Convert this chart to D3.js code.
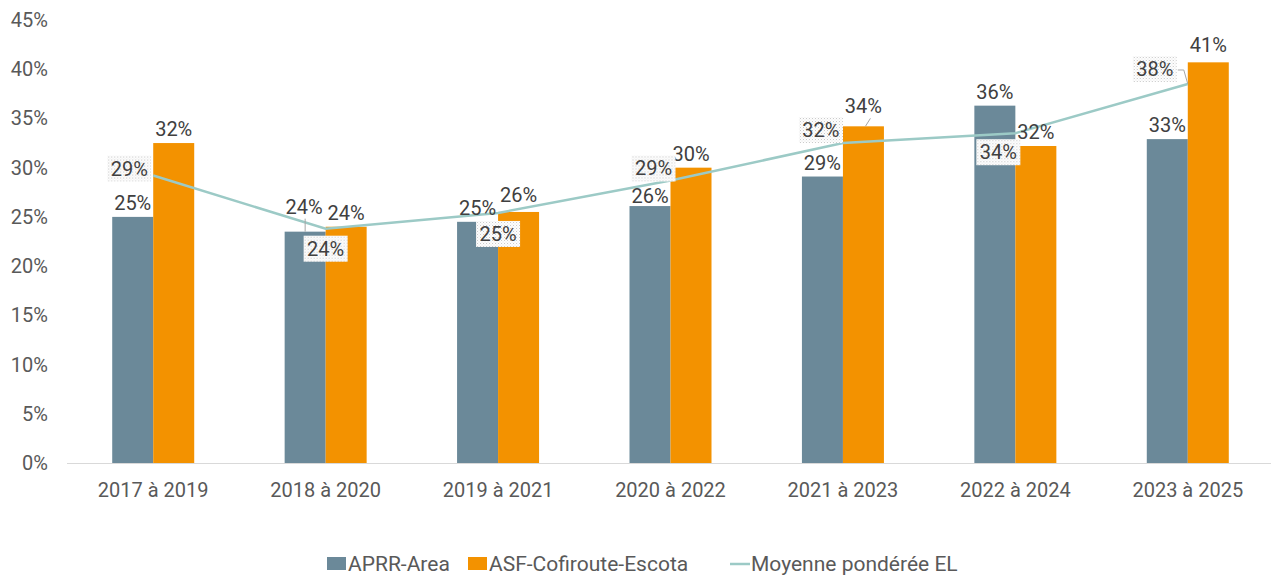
<!DOCTYPE html>
<html>
<head>
<meta charset="utf-8">
<script src="https://cdn.jsdelivr.net/npm/d3@7"></script>
<style>
  body { margin: 0; background: #fff; }
  svg text { font-family: Roboto, "Noto Sans", sans-serif; }
</style>
</head>
<body>
<svg id="chart" width="1280" height="577"></svg>
<script>
// data
var categories = ["2017 à 2019", "2018 à 2020", "2019 à 2021", "2020 à 2022", "2021 à 2023", "2022 à 2024", "2023 à 2025"];
var aprr = [25.0, 23.5, 24.5, 26.1, 29.1, 36.3, 32.9];
var asf = [32.5, 24.0, 25.5, 30.0, 34.2, 32.2, 40.7];
var moyenne = [29.2, 23.8, 25.4, 28.7, 32.5, 33.5, 38.5];
var aprr_labels = ["25%", "24%", "25%", "26%", "29%", "36%", "33%"];
var asf_labels = ["32%", "24%", "26%", "30%", "34%", "32%", "41%"];
var moy_labels = ["29%", "24%", "25%", "29%", "32%", "34%", "38%"];
var y_ticks = [0, 5, 10, 15, 20, 25, 30, 35, 40, 45];
var series_names = ["APRR-Area", "ASF-Cofiroute-Escota", "Moyenne pondérée EL"];

// label placement tweaks (dx, dy)
var aprr_off = [[0,0],[-1,-11],[0,0],[0,4],[0,0],[0,0],[0,0]];
var asf_off = [[0,0],[0,0],[0,-3],[0,0],[0,-6],[0,0],[0,-3]];
var moy_off = [[-24,-7],[0,20],[0,21],[-17,-12],[-22,-13],[-17,19],[-33,-15]];

var col_aprr = "#6b8999", col_asf = "#f39200", col_line = "#9ccac6";
var text_col = "#404040", axis_col = "#595959";
var fs = 20;

var svg = d3.select("#chart");

var x_scale = d3.scaleBand().domain(categories).range([67, 1274]);
var y_scale = d3.scaleLinear().domain([0, 45]).range([463, 20]);
var bar_w = 41;

// dotted pattern for the line labels
var defs = svg.append("defs");
var pat = defs.append("pattern").attr("id", "dots")
    .attr("width", 3).attr("height", 3).attr("patternUnits", "userSpaceOnUse");
pat.append("rect").attr("width", 3).attr("height", 3).attr("fill", "#fff");
pat.append("rect").attr("width", 1).attr("height", 1).attr("fill", "#c4c4c4");
pat.append("rect").attr("x", 1.5).attr("y", 1.5).attr("width", 1).attr("height", 1).attr("fill", "#dcdcdc");

// y axis labels
svg.selectAll("text.ytick")
    .data(y_ticks)
    .enter()
    .append("text")
    .attr("class", "ytick")
    .attr("x", 48)
    .attr("y", function(d){ return y_scale(d); })
    .attr("dy", "0.35em")
    .attr("text-anchor", "end")
    .attr("font-size", fs)
    .attr("fill", axis_col)
    .text(function(d){ return d + "%"; });

function center(d) { return x_scale(d) + x_scale.bandwidth() / 2; }

// bars
var rows = categories.map(function(c, i){ return {cat: c, a: aprr[i], b: asf[i], m: moyenne[i], i: i}; });

svg.selectAll("rect.aprr")
    .data(rows)
    .enter()
    .append("rect")
    .attr("class", "aprr")
    .attr("x", function(d){ return center(d.cat) - bar_w; })
    .attr("y", function(d){ return y_scale(d.a); })
    .attr("width", bar_w)
    .attr("height", function(d){ return y_scale(0) - y_scale(d.a); })
    .style("fill", col_aprr);

svg.selectAll("rect.asf")
    .data(rows)
    .enter()
    .append("rect")
    .attr("class", "asf")
    .attr("x", function(d){ return center(d.cat); })
    .attr("y", function(d){ return y_scale(d.b); })
    .attr("width", bar_w)
    .attr("height", function(d){ return y_scale(0) - y_scale(d.b); })
    .style("fill", col_asf);

// baseline
svg.append("line")
    .attr("x1", 67).attr("x2", 1271)
    .attr("y1", y_scale(0) + 0.5).attr("y2", y_scale(0) + 0.5)
    .attr("stroke", "#d9d9d9").attr("stroke-width", 1);

// x axis labels
svg.selectAll("text.xtick")
    .data(categories)
    .enter()
    .append("text")
    .attr("class", "xtick")
    .attr("x", function(d){ return center(d); })
    .attr("y", 497)
    .attr("text-anchor", "middle")
    .attr("font-size", fs)
    .attr("fill", axis_col)
    .text(function(d){ return d; });

// weighted average line
var line = d3.line()
    .x(function(d){ return center(d.cat); })
    .y(function(d){ return y_scale(d.m); });

svg.append("path")
    .datum(rows)
    .attr("d", line)
    .attr("fill", "none")
    .attr("stroke", col_line)
    .attr("stroke-width", 2.5);

// leader lines
function leader(pts) {
    svg.append("path")
        .attr("d", d3.line()(pts))
        .attr("fill", "none")
        .attr("stroke", "#a6a6a6")
        .attr("stroke-width", 1);
}
var c1 = center(categories[1]) - bar_w / 2;
leader([[c1, y_scale(aprr[1]) - 13], [c1, y_scale(aprr[1])]]);
var c4 = center(categories[4]) + bar_w / 2;
leader([[c4 + 7, y_scale(asf[4]) - 8], [c4 + 2, y_scale(asf[4])]]);
var c6 = center(categories[6]);
leader([[c6 - 10, y_scale(moyenne[6]) - 14], [c6 - 4, y_scale(moyenne[6]) - 14], [c6, y_scale(moyenne[6])]]);

// bar labels
function barLabel(cls, vals, labels, offs, side) {
    svg.selectAll("text." + cls)
        .data(rows)
        .enter()
        .append("text")
        .attr("class", cls)
        .attr("x", function(d){ return center(d.cat) + side * bar_w / 2 + offs[d.i][0]; })
        .attr("y", function(d){ return y_scale(vals[d.i]) - 7 + offs[d.i][1]; })
        .attr("text-anchor", "middle")
        .attr("font-size", fs)
        .attr("fill", text_col)
        .text(function(d){ return labels[d.i]; });
}
barLabel("lab_aprr", aprr, aprr_labels, aprr_off, -1);
barLabel("lab_asf", asf, asf_labels, asf_off, 1);

// line labels with dotted box
var mg = svg.selectAll("g.moylab")
    .data(rows)
    .enter()
    .append("g")
    .attr("class", "moylab")
    .attr("transform", function(d){
        return "translate(" + (center(d.cat) + moy_off[d.i][0]) + "," + (y_scale(d.m) + moy_off[d.i][1]) + ")";
    });
mg.append("rect")
    .attr("x", -22).attr("y", -13)
    .attr("width", 44).attr("height", 26)
    .attr("fill", "url(#dots)");
mg.append("text")
    .attr("text-anchor", "middle")
    .attr("dy", "0.35em")
    .attr("font-size", fs)
    .attr("fill", text_col)
    .text(function(d){ return moy_labels[d.i]; });

// legend
var legend = svg.append("g").attr("transform", "translate(0,564)");
var lx = [327, 468, 730];
series_names.forEach(function(name, i) {
    if (i < 2) {
        legend.append("rect")
            .attr("x", lx[i]).attr("y", -7)
            .attr("width", 19).attr("height", 13)
            .attr("fill", i == 0 ? col_aprr : col_asf);
    } else {
        legend.append("line")
            .attr("x1", lx[i]).attr("x2", lx[i] + 20)
            .attr("y1", 0).attr("y2", 0)
            .attr("stroke", col_line).attr("stroke-width", 2.5);
    }
    legend.append("text")
        .attr("x", lx[i] + 21)
        .attr("y", 0)
        .attr("dy", "0.35em")
        .attr("font-size", 21)
        .attr("fill", axis_col)
        .text(name);
});
</script>
</body>
</html>
